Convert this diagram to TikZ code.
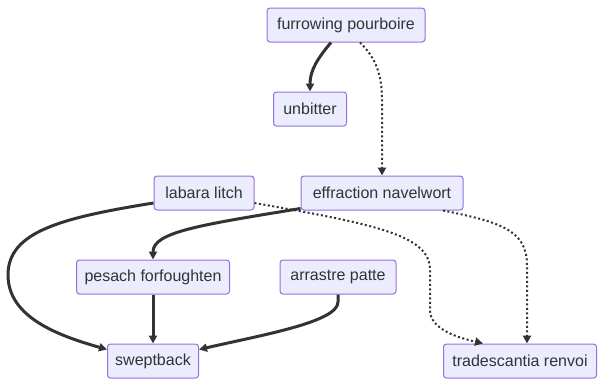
\documentclass[tikz,border=0pt]{standalone}
\usepackage{fontspec}
\setmainfont{Liberation Sans}
\usetikzlibrary{arrows.meta,calc}
\definecolor{boxfill}{HTML}{ECECFF}
\definecolor{boxline}{HTML}{9370DB}
\definecolor{ink}{HTML}{333333}
\begin{document}
\begin{tikzpicture}[x=1pt,y=-1pt,>={Triangle[length=8pt,width=8pt]},font=\fontsize{16}{19}\selectfont,
  box/.style={draw=boxline,fill=boxfill,text=ink,line width=1pt,rounded corners=3pt,minimum height=34pt,inner xsep=0pt},
  link/.style={->,line width=3pt,ink},
  weak/.style={->,line width=2pt,ink,dash pattern=on 2pt off 2.5pt}]
\useasboundingbox (0,0) rectangle (606,386);
% boxes, placed in pixel units (y grows downwards)
\node[box,minimum width=158pt] (fur) at (346,25) {furrowing pourboire};
\node[box,minimum width=73pt] (unb) at (310,109) {unbitter};
\node[box,minimum width=100pt] (lab) at (204,193) {labara litch};
\node[box,minimum width=162pt] (eff) at (382,193) {effraction navelwort};
\node[box,minimum width=153pt] (pes) at (153,277) {pesach forfoughten};
\node[box,minimum width=116pt] (arr) at (338,277) {arrastre patte};
\node[box,minimum width=91pt] (swp) at (153,361) {sweptback};
\node[box,minimum width=153pt] (trad) at (520,361) {tradescantia renvoi};
% solid links
\draw[link] ($(fur.south)+(-15,0)$) .. controls (318,58) and (310,70) .. (unb.north);
\draw[link] ($(lab.west)+(0,10)$) .. controls (60,218) and (8,232) .. (8,275)
  .. controls (8,318) and (60,336) .. ($(swp.north west)+(0,6)$);
\draw[link] ($(eff.south west)+(0,-2)$) .. controls (200,225) and (153,232) .. (pes.north);
\draw[link] (pes) -- (swp);
\draw[link] (arr.south) -- (338,302) .. controls (338,322) and (262,335) .. ($(swp.north east)+(0,6)$);
% dotted links
\draw[weak] ($(fur.south)+(14,0)$) .. controls (376,58) and (382,75) .. (382,100) -- (eff.north);
\draw[weak] ($(lab.east)+(0,10)$) .. controls (380,225) and (430,236) .. (430,270) -- (430,310)
  .. controls (430,330) and (460,338) .. ($(trad.north)+(-37,0)$);
\draw[weak] ($(eff.south)+(61,0)$) .. controls (500,222) and (527,230) .. (527,265) -- ($(trad.north)+(7,0)$);
\end{tikzpicture}
\end{document}
